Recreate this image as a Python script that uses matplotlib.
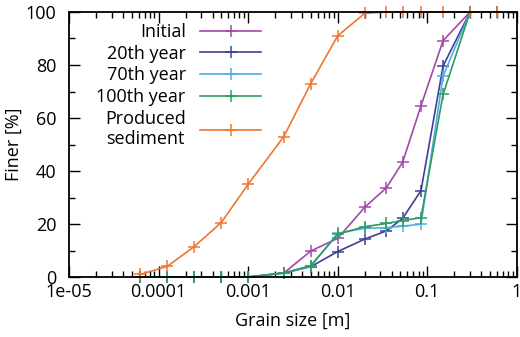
import matplotlib
matplotlib.use("Agg")
import matplotlib.pyplot as plt
from matplotlib.ticker import LogLocator, MultipleLocator, FixedFormatter, FixedLocator

plt.rcParams['font.family'] = ['Open Sans', 'DejaVu Sans']

# grain sizes [m] of the sieve classes
sizes = [6.25e-5, 1.25e-4, 2.5e-4, 5e-4, 1e-3, 2.5e-3, 5e-3, 1e-2, 2e-2,
         3.5e-2, 5.3e-2, 8.5e-2, 0.15, 0.3, 0.6]

initial = [0, 0, 0, 0, 0, 1.5, 9.8, 14.6, 26.3, 33.7, 43.3, 64.6, 89.2, 100, 100]
year20 = [0, 0, 0, 0, 0, 1.5, 3.9, 9.6, 14.3, 17.4, 22.1, 32.6, 79.6, 100, 100]
year70 = [0, 0, 0, 0, 0, 1.5, 4.0, 16.5, 18.4, 18.6, 19.2, 19.9, 75.8, 100, 100]
year100 = [0, 0, 0, 0, 0, 1.5, 4.3, 16.2, 19.0, 20.2, 21.3, 22.4, 68.9, 100, 100]
produced = [1.0, 4.0, 11.5, 20.5, 35, 53, 73, 91, 99.5, 100, 100, 100, 100, 100, 100]

series = [
    ("Initial", initial, "#a04aa6"),
    ("20th year", year20, "#3f3f98"),
    ("70th year", year70, "#4eaee6"),
    ("100th year", year100, "#2e9c5e"),
    ("Produced\nsediment", produced, "#f07530"),
]

xticks = [1e-5, 1e-4, 1e-3, 1e-2, 1e-1, 1]
xlabels = ["1e-05", "0.0001", "0.001", "0.01", "0.1", "1"]

fig = plt.figure(figsize=(5.2, 3.37), dpi=100)
ax = fig.add_axes([0.1327, 0.178, 0.8613, 0.7864])

for name, vals, col in series:
    ax.plot(sizes, vals, color=col, lw=1.2, marker='+', ms=8, mew=1.1,
            label=name, clip_on=False)

ax.set_xscale('log')
ax.set_xlim(1e-5, 1)
ax.set_ylim(0, 100)
ax.xaxis.set_major_locator(FixedLocator(xticks))
ax.xaxis.set_major_formatter(FixedFormatter(xlabels))
ax.xaxis.set_minor_locator(LogLocator(base=10, subs=range(2, 10), numticks=20))
ax.xaxis.set_minor_formatter(FixedFormatter([]))
ax.yaxis.set_major_locator(MultipleLocator(20))
ax.yaxis.set_minor_locator(MultipleLocator(10))

ax.tick_params(which='both', direction='in', top=True, right=True, labelsize=13)
ax.tick_params(which='major', length=8, width=1)
ax.tick_params(which='minor', length=4.5, width=1)
ax.tick_params(axis='x', pad=4)
ax.tick_params(axis='y', pad=9)
for s in ax.spines.values():
    s.set_linewidth(1.3)

ax.set_xlabel("Grain size [m]", fontsize=13, labelpad=8)
ax.set_ylabel("Finer [%]", fontsize=13, labelpad=2)

leg = ax.legend(loc='upper left', bbox_to_anchor=(0.045, 0.985), frameon=False,
                markerfirst=False, fontsize=13, handlelength=3.4,
                handletextpad=0.8, labelspacing=0.2, borderaxespad=0)
for t in leg.get_texts():
    t.set_multialignment('center')

fig.savefig("out.png", dpi=100)
